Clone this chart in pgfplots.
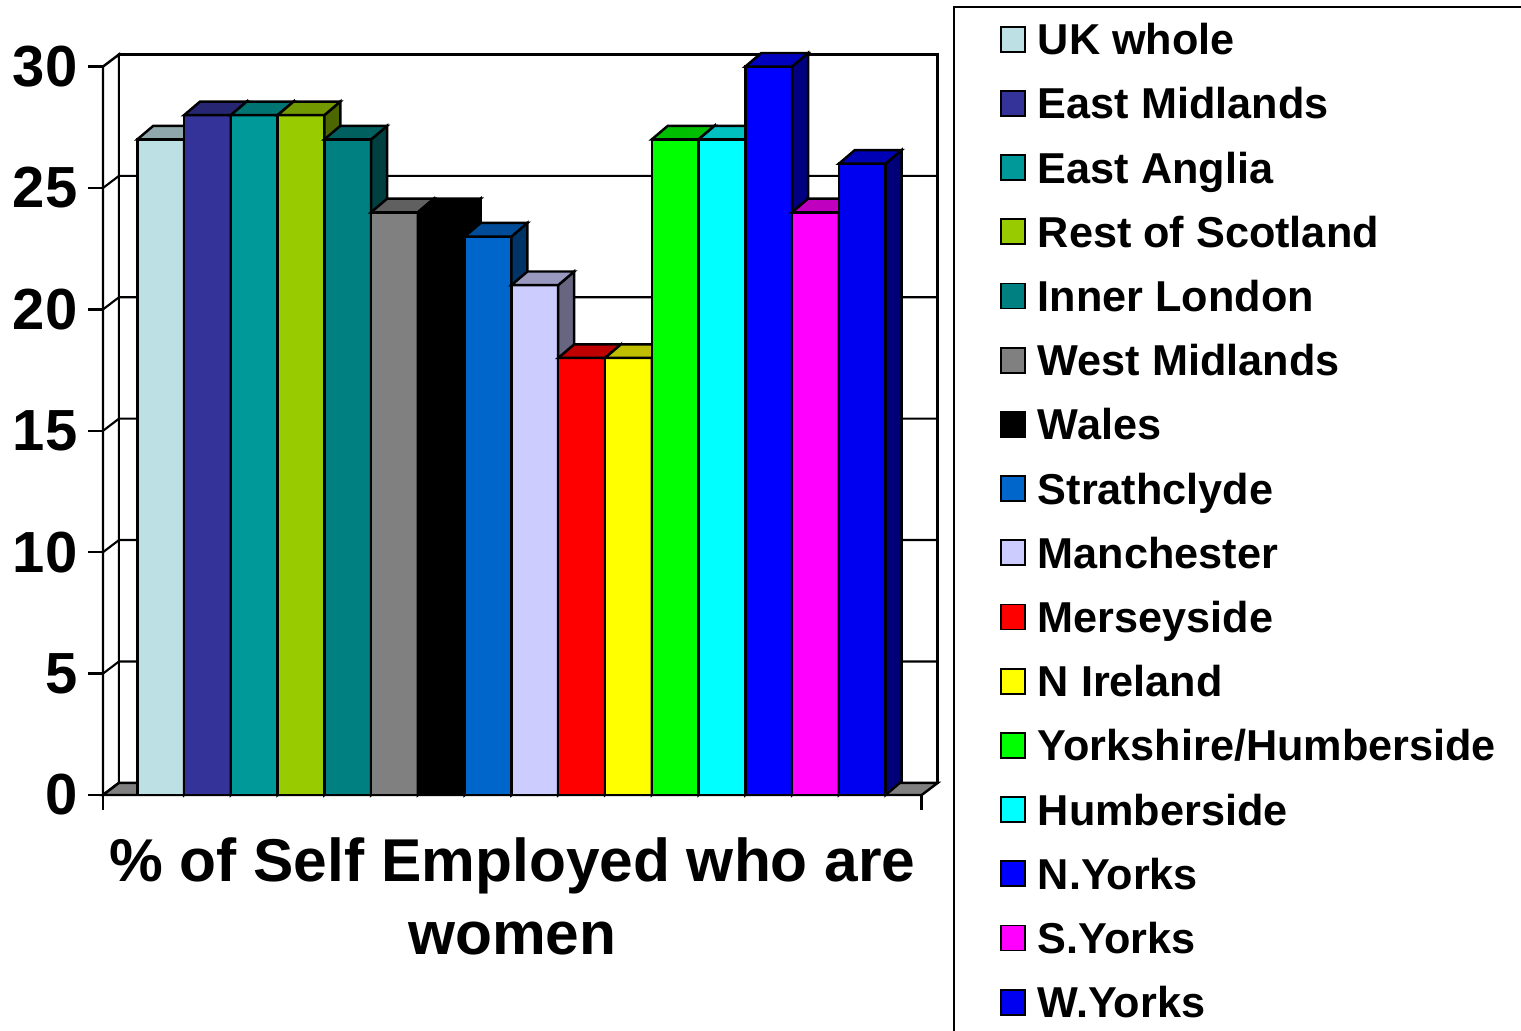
\documentclass[border=0pt]{standalone}
\usepackage{pgfplots}
\pgfplotsset{compat=1.18}
\usepackage{fontspec}
\setmainfont{Liberation Sans}
\definecolor{cUK}{HTML}{BDE0E4}
\definecolor{cEM}{HTML}{333399}
\definecolor{cEA}{HTML}{009999}
\definecolor{cRS}{HTML}{99CC00}
\definecolor{cIL}{HTML}{008080}
\definecolor{cWM}{HTML}{808080}
\definecolor{cWA}{HTML}{000000}
\definecolor{cST}{HTML}{0066CC}
\definecolor{cMA}{HTML}{CCCCFF}
\definecolor{cME}{HTML}{FF0000}
\definecolor{cNI}{HTML}{FFFF00}
\definecolor{cYH}{HTML}{00FF00}
\definecolor{cHU}{HTML}{00FFFF}
\definecolor{cNY}{HTML}{0000FF}
\definecolor{cSY}{HTML}{FF00FF}
\definecolor{cWY}{HTML}{0000F0}
\definecolor{floorgray}{HTML}{808080}
\newcommand{\DX}{0.342}
\newcommand{\DY}{0.56}
\newcommand{\tdbar}[4]{%
  \pgfmathsetmacro{\xa}{#1}%
  \pgfmathsetmacro{\xb}{#1+1}%
  \pgfmathsetmacro{\xc}{#1+1+\DX}%
  \pgfmathsetmacro{\xd}{#1+\DX}%
  \pgfmathsetmacro{\yt}{#2+\DY}%
  \addplot[fill=#3, draw=black, line width=0.7pt, mark=none] coordinates {(\xa,0) (\xb,0) (\xb,#2) (\xa,#2)} --cycle;
  \addlegendentry{#4}
  \addplot[forget plot, fill=#3!50!black, draw=black, line width=0.7pt, mark=none] coordinates {(\xb,0) (\xc,\DY) (\xc,\yt) (\xb,#2)} --cycle;
  \addplot[forget plot, fill=#3!75!black, draw=black, line width=0.7pt, mark=none] coordinates {(\xa,#2) (\xb,#2) (\xc,\yt) (\xd,\yt)} --cycle;
}
\begin{document}
\begin{tikzpicture}
\begin{axis}[
  at={(0,0)}, anchor=south west,
  scale only axis, width=8.1871cm, height=7.5268cm,
  xmin=-0.733, xmax=16.772, ymin=0, ymax=31,
  clip=false,
  axis line style={draw=none},
  xtick={-0.733,16.772}, xticklabels={,},
  ytick={0,5,...,30},
  tick pos=left, tick align=outside,
  major tick length=0.15cm,
  tick style={black, line width=0.7pt},
  /pgf/number format/assume math mode=true,
  yticklabel style={font=\bfseries\fontsize{16.5}{18}\selectfont, inner sep=0pt, xshift=-1mm},
  xlabel={\% of Self Employed who are\\women},
  xlabel style={at={(axis description cs:0.5,0)}, anchor=north, yshift=-0.42cm, inner sep=0pt, align=center, font=\bfseries\fontsize{17.2}{20.8}\selectfont},
  legend image code/.code={\draw[#1,line width=0.5pt] (-0.2mm,-1.25mm) rectangle (2.2mm,1.25mm);},
  legend style={at={(axis description cs:1.03822,1.04826)}, anchor=north west, draw=black, line width=0.6pt, inner xsep=4.6mm, inner ysep=0.0mm, row sep=0pt, column sep=1.2mm, font=\bfseries\fontsize{12.3}{14}\selectfont, cells={anchor=west}, nodes={inner sep=0pt, text height=4.76mm, text depth=1.66mm}},
]
% walls and floor
\addplot[forget plot, fill=white, draw=black, line width=0.7pt, mark=none] coordinates {(-0.733,0) (-0.391,0.5) (-0.391,30.5) (-0.733,30)} --cycle;
\addplot[forget plot, fill=white, draw=black, line width=0.7pt, mark=none] coordinates {(-0.391,0.5) (17.114,0.5) (17.114,30.5) (-0.391,30.5)} --cycle;
\addplot[forget plot, fill=floorgray, draw=black, line width=0.7pt, mark=none] coordinates {(-0.733,0) (16.772,0) (17.114,0.5) (-0.391,0.5)} --cycle;
% gridlines
\addplot[forget plot, draw=black, line width=0.6pt, mark=none] coordinates {(-0.733,5) (-0.391,5.5) (17.114,5.5)};
\addplot[forget plot, draw=black, line width=0.6pt, mark=none] coordinates {(-0.733,10) (-0.391,10.5) (17.114,10.5)};
\addplot[forget plot, draw=black, line width=0.6pt, mark=none] coordinates {(-0.733,15) (-0.391,15.5) (17.114,15.5)};
\addplot[forget plot, draw=black, line width=0.6pt, mark=none] coordinates {(-0.733,20) (-0.391,20.5) (17.114,20.5)};
\addplot[forget plot, draw=black, line width=0.6pt, mark=none] coordinates {(-0.733,25) (-0.391,25.5) (17.114,25.5)};
% bars
\tdbar{0}{27}{cUK}{UK whole}
\tdbar{1}{28}{cEM}{East Midlands}
\tdbar{2}{28}{cEA}{East Anglia}
\tdbar{3}{28}{cRS}{Rest of Scotland}
\tdbar{4}{27}{cIL}{Inner London}
\tdbar{5}{24}{cWM}{West Midlands}
\tdbar{6}{24}{cWA}{Wales}
\tdbar{7}{23}{cST}{Strathclyde}
\tdbar{8}{21}{cMA}{Manchester}
\tdbar{9}{18}{cME}{Merseyside}
\tdbar{10}{18}{cNI}{N Ireland}
\tdbar{11}{27}{cYH}{Yorkshire/Humberside}
\tdbar{12}{27}{cHU}{Humberside}
\tdbar{13}{30}{cNY}{N.Yorks}
\tdbar{14}{24}{cSY}{S.Yorks}
\tdbar{15}{26}{cWY}{W.Yorks}
\end{axis}
\pgfresetboundingbox
\path[use as bounding box] (-1.03,-2.36) rectangle (14.18,7.95);
\end{tikzpicture}
\end{document}
